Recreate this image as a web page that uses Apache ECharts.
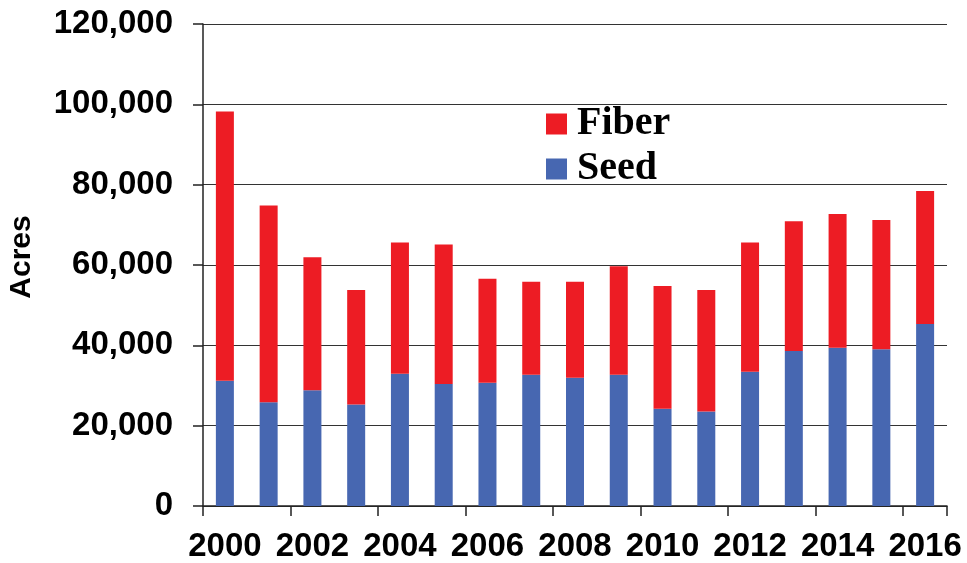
<!DOCTYPE html>
<html>
<head>
<meta charset="utf-8">
<script src="https://cdn.jsdelivr.net/npm/echarts@6/dist/echarts.min.js"></script>
<style>
  html, body { margin: 0; padding: 0; background: #ffffff; }
  #chart { width: 967px; height: 563px; }
</style>
</head>
<body>
<div id="chart"></div>
<script>
// Acres planted per year, split into seed and fiber
const years = ['2000', '2001', '2002', '2003', '2004', '2005', '2006', '2007', '2008',
               '2009', '2010', '2011', '2012', '2013', '2014', '2015', '2016'];
const seedAcres = [31200, 25800, 28800, 25300, 32900, 30400, 30700, 32700, 31900,
                   32700, 24200, 23500, 33400, 38600, 39400, 39000, 45300];
const fiberAcres = [67000, 49000, 33100, 28500, 32700, 34700, 25900, 23100, 23900,
                    27000, 30600, 30300, 32200, 32300, 33300, 32200, 33100];
const yTicks = [0, 20000, 40000, 60000, 80000, 100000, 120000];

const sansBold = {
  fontFamily: '"Liberation Sans", Arial, sans-serif',
  fontWeight: 'bold',
  color: '#000000'
};

const chart = echarts.init(document.getElementById('chart'), null, { renderer: 'canvas' });

chart.setOption({
  backgroundColor: '#ffffff',
  animation: false,
  grid: { left: 203, right: 20, top: 24, bottom: 56, containLabel: false },
  legend: {
    data: ['Fiber', 'Seed'],
    orient: 'vertical',
    left: 546,
    top: 104,
    padding: 0,
    itemWidth: 21,
    itemHeight: 21,
    itemGap: 5,
    icon: 'rect',
    textStyle: {
      fontFamily: '"Liberation Serif", "Times New Roman", serif',
      fontWeight: 'bold',
      fontSize: 40,
      color: '#000000',
      padding: [0, 0, 0, 5]
    }
  },
  xAxis: {
    type: 'category',
    data: years,
    boundaryGap: true,
    axisLine: { show: true, lineStyle: { color: '#222222', width: 1.5 } },
    axisTick: { show: true, inside: false, length: 10, lineStyle: { color: '#222222', width: 1.5 } },
    axisLabel: Object.assign({ interval: 1, fontSize: 33, margin: 24 }, sansBold)
  },
  yAxis: {
    type: 'value',
    min: yTicks[0],
    max: yTicks[yTicks.length - 1],
    interval: yTicks[1] - yTicks[0],
    axisLine: { show: true, lineStyle: { color: '#222222', width: 1.5 } },
    axisTick: { show: true, inside: false, length: 10, lineStyle: { color: '#222222', width: 1.5 } },
    splitLine: { show: true, lineStyle: { color: '#333333', width: 1.2 } },
    axisLabel: Object.assign({
      fontSize: 33,
      margin: 30,
      formatter: v => v.toLocaleString('en-US')
    }, sansBold)
  },
  graphic: [{
    type: 'text',
    x: 22,
    y: 257,
    rotation: Math.PI / 2,
    style: {
      text: 'Acres',
      fontFamily: '"Liberation Sans", Arial, sans-serif',
      fontWeight: 'bold',
      fontSize: 30,
      fill: '#000000',
      align: 'center',
      verticalAlign: 'middle'
    }
  }],
  series: [
    {
      name: 'Seed',
      type: 'bar',
      stack: 'acres',
      data: seedAcres,
      barWidth: 18,
      itemStyle: { color: '#4767B1' }
    },
    {
      name: 'Fiber',
      type: 'bar',
      stack: 'acres',
      data: fiberAcres,
      barWidth: 18,
      itemStyle: { color: '#ED1C24' }
    }
  ]
});
</script>
</body>
</html>
